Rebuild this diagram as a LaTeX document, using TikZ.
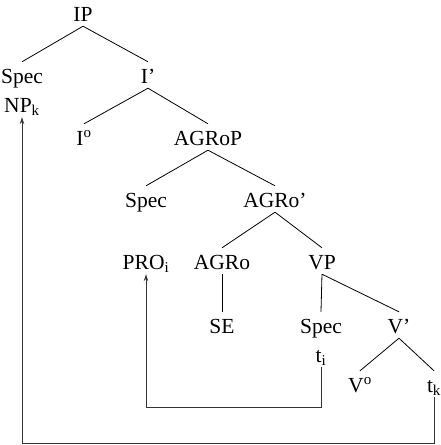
\documentclass[tikz,border=0pt]{standalone}
\usepackage{fontspec}
\setmainfont{Liberation Serif}
\usepackage{tikz}
\usetikzlibrary{arrows.meta,positioning,calc}
\tikzset{
  cat/.style={anchor=base,inner sep=0pt,text height=21pt,text depth=5pt,
    font=\fontsize{21.5pt}{25pt}\selectfont},
  branch/.style={line width=0.8pt,color=black},
  move/.style={-{Stealth[length=7pt,width=4.5pt]},line width=0.8pt,color=black!80}
}

\begin{document}
\begin{tikzpicture}[x=1pt,y=-1pt]
  \useasboundingbox (0,0) rectangle (441,445);

  % top levels
  \node[cat] (ip) at (83,21) {IP};
  \node[cat] (spec1) at (22,83) {Spec};
  \node[cat] (npk) at (22,112) {NP\textsubscript{k}};
  \node[cat] (ibar) at (148,83) {I'};
  \node[cat] (ihead) at (84,145) {I\textsuperscript{o}};
  \node[cat] (agrop) at (208,145) {AGRoP};
  \node[cat] (spec2) at (146,207) {Spec};
  \node[cat] (agrobar) at (275,207) {AGRo'};

  % lower levels
  \node[cat] (pro) at (146,269) {PRO\textsubscript{i}};
  \node[cat] (agro) at (222,269) {AGRo};
  \node[cat] (vp) at (322,269) {VP};
  \node[cat] (se) at (222,333) {SE};
  \node[cat] (spec3) at (321,333) {Spec};
  \node[cat] (ti) at (321,362) {t\textsubscript{i}};
  \node[cat] (vbar) at (399,333) {V'};
  \node[cat] (vhead) at (360,392) {V\textsuperscript{o}};
  \node[cat] (tk) at (434,392) {t\textsubscript{k}};

  \draw[branch] (ip.south) -- (spec1.north);
  \draw[branch] (ip.south) -- (ibar.north);
  \draw[branch] (ibar.south) -- (ihead.north);
  \draw[branch] (ibar.south) -- (agrop.north);
  \draw[branch] (agrop.south) -- (spec2.north);
  \draw[branch] (agrop.south) -- (agrobar.north);
  \draw[branch] (agrobar.south) -- (agro.north);
  \draw[branch] (agrobar.south) -- (vp.north);
  \draw[branch] (agro.south) -- (se.north);
  \draw[branch] (vp.south) -- (spec3.north);
  \draw[branch] (vp.south) -- (vbar.north);
  \draw[branch] (vbar.south) -- (vhead.north);
  \draw[branch] (vbar.south) -- (tk.north);

  % movement
  \draw[move]
    (ti.south) -- ++(0,40)
    -| (pro.south);
  \draw[move]
    (tk.south) -- ++(0,46)
    -| (npk.south);
\end{tikzpicture}
\end{document}
